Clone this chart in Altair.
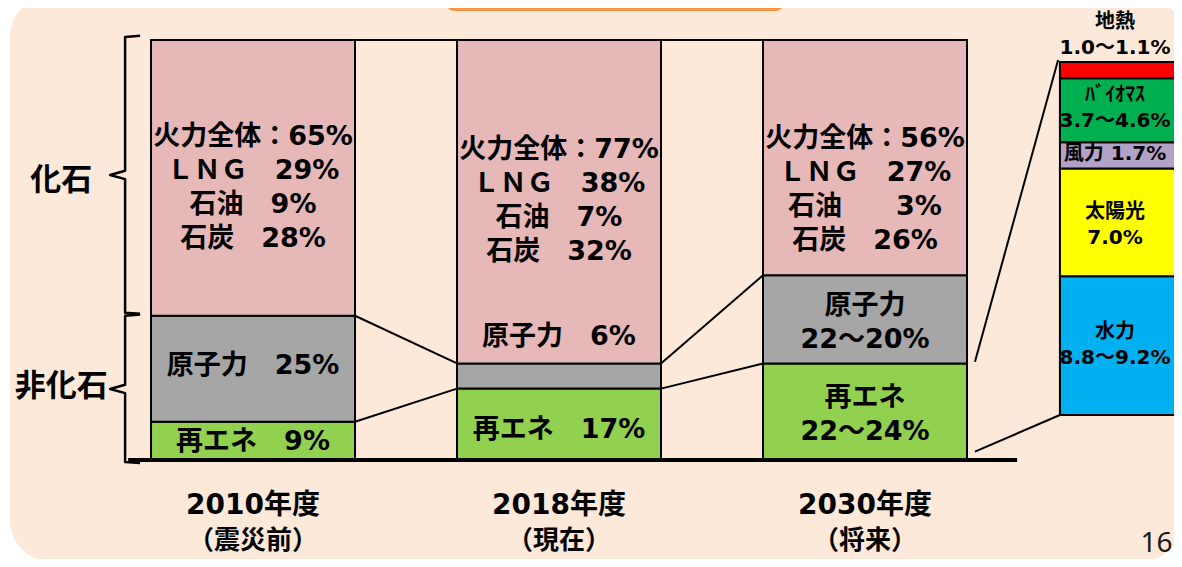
import altair as alt
import pandas as pd

# ---------------- data ----------------
years = ["2010年度", "2018年度", "2030年度"]
periods = ["（震災前）", "（現在）", "（将来）"]
sources = ["再エネ", "原子力", "火力"]
renew = [9, 17, 23]      # 2030: 22〜24%
nuclear = [25, 6, 21]    # 2030: 22〜20%
fossil = [65, 77, 56]
renew_labels = ["再エネ\u30009%", "再エネ\u300017%", "再エネ\n22〜24%"]
nuclear_labels = ["原子力\u300025%", "原子力\u30006%", "原子力\n22〜20%"]
fossil_labels = [
    "火力全体：65%\nＬＮＧ\u300029%\n石油\u30009%\n石炭\u300028%",
    "火力全体：77%\nＬＮＧ\u300038%\n石油\u30007%\n石炭\u300032%",
    "火力全体：56%\nＬＮＧ\u300027%\n石油\u3000\u2002\u20023%\n石炭\u300026%",
]

detail_sources = ["水力", "太陽光", "風力", "バイオマス", "地熱"]
detail_values = [9.0, 7.0, 1.7, 4.15, 1.05]
detail_labels = ["水力\n8.8〜9.2%", "太陽光\n7.0%", "風力 1.7%", "ﾊﾞｲｵﾏｽ\n3.7〜4.6%", "地熱\n1.0〜1.1%"]

group_labels = ["化石", "非化石"]
page_number = "16"

# ---------------- style / layout ----------------
colors = {"再エネ": "#92D050", "原子力": "#A6A6A6", "火力": "#E6B9B8",
          "水力": "#00B0F0", "太陽光": "#FFFF00", "風力": "#B3A2C7",
          "バイオマス": "#00B050", "地熱": "#FF0000"}
PX = 4.2                      # pixels per percent
X_DOM = [-0.8007, 3.0098]
Y_DOM = [-23.57, 107.62]
HALF = 1 / 3
DETAIL_X0, DETAIL_X1 = 2.637, 3.06
DETAIL_BASE, DETAIL_ZOOM = 10.71, 3.67
DETAIL_TEXT_X = 2.817
FONT = "DejaVu Sans, Noto Sans CJK JP, sans-serif"
MAIN_LH, DET_LH = 34, 26
label_off = {"再エネ": [1, 6, 3.5], "原子力": [-3, -39, 3.5], "火力": [10, -1, 32]}
detail_off = [-1, 2.5, -1, -2.5, -35]

xs = alt.Scale(domain=X_DOM, nice=False, zero=False)
ys = alt.Scale(domain=Y_DOM, nice=False, zero=False)


def X(f):
    return alt.X(f, type="quantitative", scale=xs, axis=None)


def Y(f):
    return alt.Y(f, type="quantitative", scale=ys, axis=None)


def first_line_y(center, text, lh):
    n = text.count("\n") + 1
    return center + (n - 1) * lh / 2 / PX


# ---------------- tables ----------------
seg_rows = []
levels = []
for i, yr in enumerate(years):
    vals = [renew[i], nuclear[i], fossil[i]]
    labs = [renew_labels[i], nuclear_labels[i], fossil_labels[i]]
    tot = sum(vals)
    cum = 0
    lv = []
    for j, src in enumerate(sources):
        y0 = cum / tot * 100
        cum += vals[j]
        y1 = cum / tot * 100
        lv.append(y1)
        c = (y0 + y1) / 2 - label_off[src][i] / PX
        seg_rows.append(dict(year=yr, source=src, x0=i - HALF, x1=i + HALF, xc=i,
                             y0=y0, y1=y1, label=labs[j], color=colors[src],
                             ly=first_line_y(c, labs[j], MAIN_LH)))
    levels.append(lv)
seg = pd.DataFrame(seg_rows)

det_rows = []
cum = 0
for k, src in enumerate(detail_sources):
    y0 = DETAIL_BASE + cum * DETAIL_ZOOM
    cum += detail_values[k]
    y1 = DETAIL_BASE + cum * DETAIL_ZOOM
    c = (y0 + y1) / 2 - detail_off[k] / PX
    det_rows.append(dict(source=src, x0=DETAIL_X0, x1=DETAIL_X1, xt=DETAIL_TEXT_X,
                         y0=y0, y1=y1, label=detail_labels[k], color=colors[src],
                         ly=first_line_y(c, detail_labels[k], DET_LH)))
det = pd.DataFrame(det_rows)
det_top = det["y1"].max()

con_rows = []
for i in range(len(years) - 1):
    for j in range(3):
        con_rows.append(dict(x=i + HALF, x2=i + 1 - HALF, y=levels[i][j], y2=levels[i + 1][j]))
con_rows.append(dict(x=2 + HALF + 0.026, x2=DETAIL_X0 - 0.006, y=levels[2][0] + 0.4, y2=det_top + 0.5))
con_rows.append(dict(x=2 + HALF + 0.026, x2=DETAIL_X0, y=2.0, y2=DETAIL_BASE))
con = pd.DataFrame(con_rows)

base_df = pd.DataFrame([dict(x=-0.408, x2=2.497, y=0.0)])

# braces
XB, HOOK, NOTCH = -0.418, -0.369, -0.467
nonfossil_top = levels[0][1]
brace_specs = [("化石", nonfossil_top + 0.7, 100.7, 6), ("非化石", -0.5, nonfossil_top, -2)]
br_rows, brt_rows = [], []
for name, lo, hi, toff in brace_specs:
    mid = (lo + hi) / 2
    pts = [(HOOK, hi + 0.3), (XB, hi), (XB, mid + 1.0), (NOTCH, mid), (XB, mid - 1.0), (XB, lo), (HOOK, lo - 0.2)]
    for o, (px, py) in enumerate(pts):
        br_rows.append(dict(g=name, o=o, x=px, y=py))
    brt_rows.append(dict(label=name, x=-0.627, y=mid - toff / PX))
br = pd.DataFrame(br_rows)
brt = pd.DataFrame(brt_rows)

cat = pd.DataFrame(dict(x=list(range(len(years))), year=years, period=periods))
year_df = cat.assign(y=-10.9)
period_df = cat.assign(y=-19.4)
pg = pd.DataFrame([dict(x=2.900, y=-20.0, label=page_number)])

# ---------------- layers ----------------
one = pd.DataFrame({"a": [0]})
bg = alt.Chart(one).mark_rect(color="#FDE9D9", cornerRadius=42).encode(
    x=alt.value(2), x2=alt.value(1174), y=alt.value(-13), y2=alt.value(554))
orange = alt.Chart(one).mark_rect(color="#F79646", cornerRadius=10).encode(
    x=alt.value(437), x2=alt.value(777), y=alt.value(-30), y2=alt.value(3))

bars = alt.Chart(seg).mark_rect(stroke="black", strokeWidth=2).encode(
    x=X("x0"), x2="x1", y=Y("y0"), y2="y1", color=alt.Color("color:N", scale=None))
bar_text = alt.Chart(seg).mark_text(font=FONT, fontSize=27, fontWeight="bold", lineBreak="\n",
                                    lineHeight=MAIN_LH, baseline="middle", color="black").encode(
    x=X("xc"), y=Y("ly"), text="label:N")

connectors = alt.Chart(con).mark_rule(color="black", strokeWidth=2).encode(
    x=X("x"), x2="x2", y=Y("y"), y2="y2")
baseline = alt.Chart(base_df).mark_rule(color="black", strokeWidth=4).encode(
    x=X("x"), x2="x2", y=Y("y"))

dbars = alt.Chart(det).mark_rect(stroke="black", strokeWidth=2).encode(
    x=X("x0"), x2="x1", y=Y("y0"), y2="y1", color=alt.Color("color:N", scale=None))
dtext = alt.Chart(det).mark_text(font=FONT, fontSize=20, fontWeight="bold", lineBreak="\n",
                                 lineHeight=DET_LH, baseline="middle", color="black").encode(
    x=X("xt"), y=Y("ly"), text="label:N")

braces = alt.Chart(br).mark_line(color="black", strokeWidth=2.5, strokeJoin="round").encode(
    x=X("x"), y=Y("y"), detail="g:N", order="o:Q")
brace_text = alt.Chart(brt).mark_text(font=FONT, fontSize=31, fontWeight="bold",
                                      baseline="middle", color="black").encode(
    x=X("x"), y=Y("y"), text="label:N")

year_text = alt.Chart(year_df).mark_text(font=FONT, fontSize=28, fontWeight="bold",
                                         baseline="middle", color="black").encode(
    x=X("x"), y=Y("y"), text="year:N")
period_text = alt.Chart(period_df).mark_text(font=FONT, fontSize=26, fontWeight="bold",
                                             baseline="middle", color="black").encode(
    x=X("x"), y=Y("y"), text="period:N")
page_text = alt.Chart(pg).mark_text(font="Noto Sans, DejaVu Sans", fontSize=28, align="left",
                                    baseline="middle", color="#1a1a1a").encode(
    x=X("x"), y=Y("y"), text="label:N")

chart = alt.layer(
    bg, orange, connectors, bars, bar_text, baseline, dbars, dtext,
    braces, brace_text, year_text, period_text, page_text
).properties(
    width=1166, height=551, padding=0,
    autosize=alt.AutoSizeParams(type="none"), background="white"
).configure_view(stroke=None)

chart.save("out.html", embed_options={"renderer": "svg", "actions": False})
